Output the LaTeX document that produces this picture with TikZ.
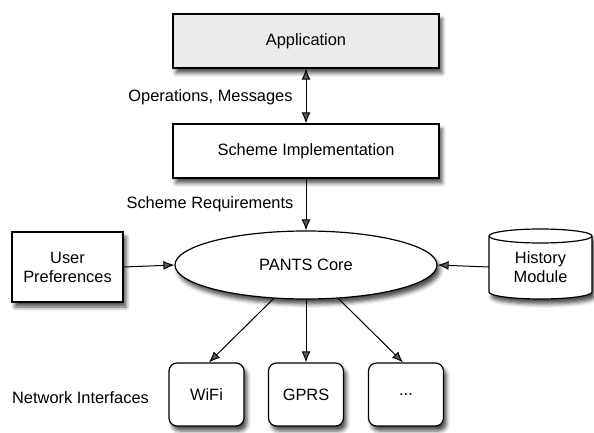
\documentclass[tikz,border=0pt]{standalone}
\usepackage{fontspec}
\setmainfont{Liberation Sans}
\usetikzlibrary{shapes.geometric,shadows.blur,arrows.meta,calc}

\begin{document}
\begin{tikzpicture}[x=1pt,y=1pt,
  font=\fontsize{16.4}{19}\selectfont,
  dropshadow/.style={blur shadow={shadow xshift=3pt,shadow yshift=-5pt,
      shadow blur radius=4pt,shadow opacity=70}},
  outline/.style={draw=black,line width=1.2pt,fill=white,dropshadow},
  layerbox/.style={outline,minimum width=266pt,minimum height=54pt,inner sep=0pt},
  sidebox/.style={outline,minimum width=111pt,minimum height=70pt,align=center,inner sep=0pt},
  ifbox/.style={outline,rounded corners=8pt,minimum width=75pt,minimum height=63pt,inner sep=0pt},
  core/.style={outline,ellipse,minimum width=262pt,minimum height=68pt,inner sep=0pt},
  label/.style={inner sep=0pt},
  conn/.style={line width=1pt,-{Latex[length=11pt,width=9pt]}},
  biconn/.style={line width=1pt,{Latex[length=11pt,width=9pt]}-{Latex[length=11pt,width=9pt]}},
]
\useasboundingbox (0,0) rectangle (594,432);

% layers
\node[layerbox,fill={rgb,255:red,235;green,235;blue,235}] (app) at (306,391) {Application};
\node[layerbox] (scheme) at (306,281) {Scheme Implementation};
\node[core] (pants) at (306,167) {PANTS Core};
\node[sidebox] (prefs) at (67.5,165) {User\\Preferences};

% history store drawn as a cylinder
\draw[outline] (489,196) -- (489,140)
  arc[start angle=180,end angle=360,x radius=51.5,y radius=7] -- (592,196)
  arc[start angle=0,end angle=180,x radius=51.5,y radius=7] -- cycle;
\draw[line width=1.2pt] (489,196)
  arc[start angle=180,end angle=360,x radius=51.5,y radius=7];
\node[minimum width=103pt,minimum height=70pt,align=center,inner sep=0pt] (hist) at (540.5,165) {History\\Module};

% network interfaces
\node[ifbox] (wifi) at (206.5,37.5) {WiFi};
\node[ifbox] (gprs) at (306,37.5) {GPRS};
\node[ifbox] (more) at (406,37.5) {...};

% labels
\node[label] (ops) at (210.5,335) {Operations, Messages};
\node[label] (req) at (210,228) {Scheme Requirements};
\node[label] (netif) at (80.5,34) {Network Interfaces};

% connectors
\draw[biconn] (app.south) -- (scheme.north);
\draw[conn] (scheme.south) -- (pants.north);
\draw[conn] (prefs.east) -- (pants.west);
\draw[conn] (hist.west) -- (pants.east);
\draw[conn] (pants.226) -- ($(wifi.north)+(2.5,0)$);
\draw[conn] (pants.south) -- (gprs.north);
\draw[conn] (pants.314) -- ($(more.north)+(-3,0)$);
\end{tikzpicture}
\end{document}
